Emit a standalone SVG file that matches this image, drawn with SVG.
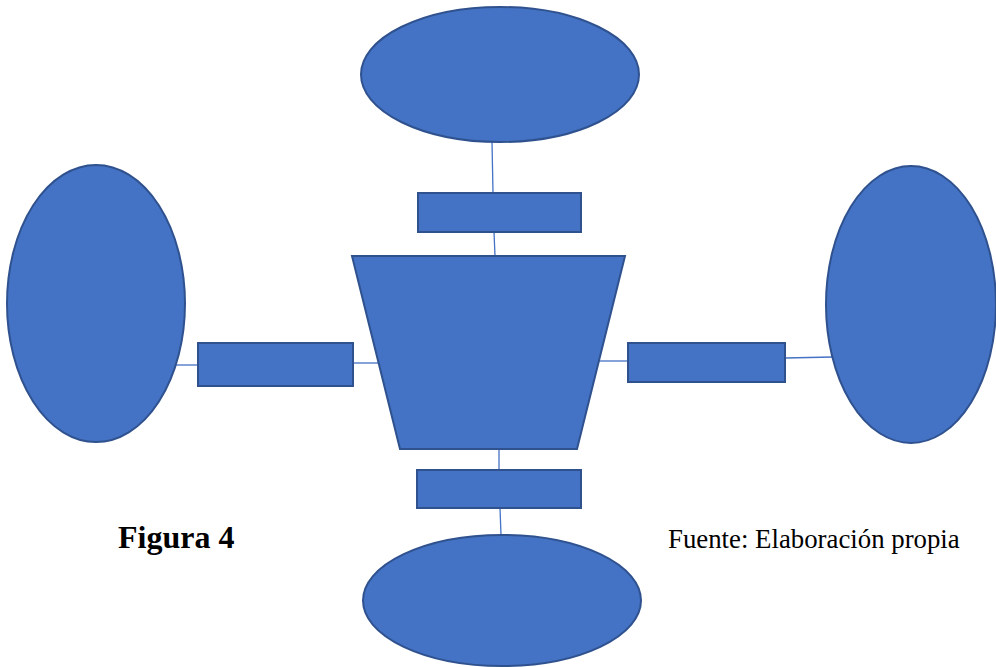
<svg xmlns="http://www.w3.org/2000/svg" width="996" height="667" viewBox="0 0 996 667">
<style>
.shape{fill:#4472C4;stroke:#2F528F;stroke-width:2}
.conn{stroke:#4472C4;stroke-width:1.3;fill:none}
.t{font-family:"Liberation Serif","Times New Roman",serif;fill:#000}
</style>
<rect width="996" height="667" fill="#fff"/>
<g id="connectors">
<line class="conn" x1="492" y1="142" x2="493" y2="193"/>
<line class="conn" x1="494" y1="232" x2="495" y2="256"/>
<line class="conn" x1="499" y1="449" x2="499" y2="470"/>
<line class="conn" x1="500" y1="508" x2="501" y2="535"/>
<line class="conn" x1="176" y1="365" x2="198" y2="365"/>
<line class="conn" x1="353" y1="363" x2="378" y2="363"/>
<line class="conn" x1="598" y1="361" x2="628" y2="361"/>
<line class="conn" x1="785" y1="358" x2="833" y2="357"/>
</g>
<g id="top-ellipse"><ellipse class="shape" cx="500" cy="74.5" rx="139" ry="67.5"/></g>
<g id="top-rect"><rect class="shape" x="418" y="193" width="163" height="39"/></g>
<g id="center-trapezoid"><polygon class="shape" points="352,256 625,256 577,449 400,449"/></g>
<g id="bottom-rect"><rect class="shape" x="417" y="470" width="164" height="38"/></g>
<g id="bottom-ellipse"><ellipse class="shape" cx="502" cy="600.5" rx="139" ry="65.5"/></g>
<g id="left-ellipse"><ellipse class="shape" cx="96" cy="303.5" rx="89" ry="138.5"/></g>
<g id="left-rect"><rect class="shape" x="198" y="343" width="155" height="43"/></g>
<g id="right-rect"><rect class="shape" x="628" y="343" width="157" height="39"/></g>
<g id="right-ellipse"><ellipse class="shape" cx="911" cy="304.5" rx="85" ry="138.5"/></g>
<text class="t" x="118" y="548" font-size="32" font-weight="bold">Figura 4</text>
<text class="t" x="668" y="548" font-size="26.8">Fuente: Elaboración propia</text>
</svg>
